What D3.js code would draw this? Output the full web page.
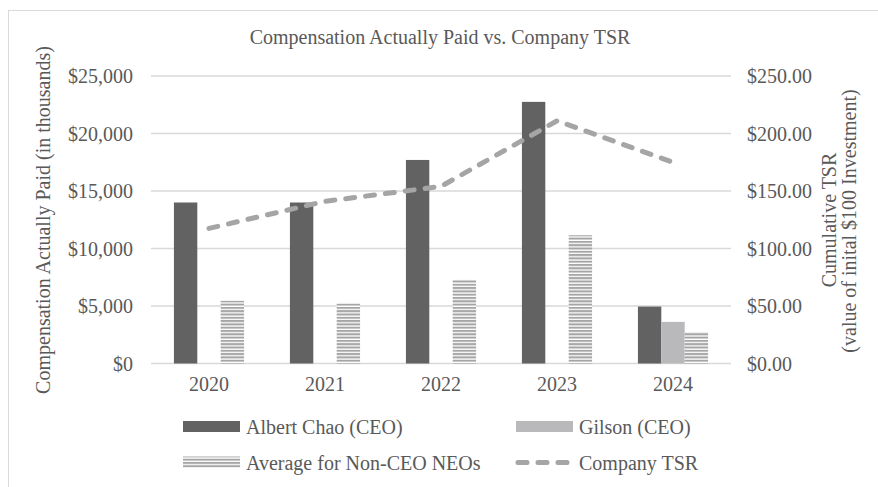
<!DOCTYPE html>
<html lang="en">
<head>
    <meta charset="UTF-8">
    <title>Compensation Actually Paid vs. Company TSR</title>
    <style>
        body { margin: 0; background: #fff; }
        svg { display: block; }
        text { font-family: "Liberation Serif", "Times New Roman", serif; fill: #595959; font-size: 20px; }
    </style>
</head>
<body>
    <div id="chart"></div>
    <script src="https://d3js.org/d3.v7.min.js"></script>
    <script>
        // Chart data
        const years = ["2020", "2021", "2022", "2023", "2024"];
        const albertChao = [14000, 14000, 17700, 22750, 4950];
        const gilson = [null, null, null, null, 3620];
        const nonCeoAvg = [5450, 5220, 7270, 11150, 2740];
        const companyTsr = [117.5, 141, 154, 211, 175];
        const leftTicks = [0, 5000, 10000, 15000, 20000, 25000];
        const rightTicks = [0, 50, 100, 150, 200, 250];

        const width = 878, height = 487;
        const plot = { left: 151, right: 731, top: 76, bottom: 363.5 };

        const svg = d3.select("#chart").append("svg")
            .attr("width", width)
            .attr("height", height);

        // horizontal hatch for the non-CEO bars
        const defs = svg.append("defs");
        const pat = defs.append("pattern")
            .attr("id", "hatch")
            .attr("patternUnits", "userSpaceOnUse")
            .attr("width", 6).attr("height", 3.3);
        pat.append("rect").attr("width", 6).attr("height", 3.3).attr("fill", "#fff");
        pat.append("rect").attr("y", 0).attr("width", 6).attr("height", 2).attr("fill", "#a5a5a5");

        // outer chart border
        svg.append("rect")
            .attr("x", 8.5).attr("y", 10.5)
            .attr("width", width).attr("height", height)
            .attr("fill", "none")
            .attr("stroke", "#d9d9d9");

        const x = d3.scaleBand().domain(years).range([plot.left, plot.right]);
        const yL = d3.scaleLinear().domain([0, 25000]).range([plot.bottom, plot.top]);
        const yR = d3.scaleLinear().domain([0, 250]).range([plot.bottom, plot.top]);

        // gridlines
        svg.append("g").selectAll("line")
            .data(leftTicks)
            .join("line")
            .attr("x1", plot.left).attr("x2", plot.right)
            .attr("y1", d => yL(d)).attr("y2", d => yL(d))
            .attr("stroke", "#d9d9d9")
            .attr("stroke-width", 1.3);

        // bars
        const seriesKeys = ["albert", "gilson", "neo"];
        const sub = d3.scaleBand().domain(seriesKeys)
            .range([0, x.bandwidth()])
            .paddingOuter(0.98).paddingInner(0);
        const fills = { albert: "#626262", gilson: "#b9b9bb", neo: "url(#hatch)" };
        const barData = [];
        years.forEach((yr, i) => {
            barData.push({ yr, key: "albert", v: albertChao[i] });
            barData.push({ yr, key: "gilson", v: gilson[i] });
            barData.push({ yr, key: "neo", v: nonCeoAvg[i] });
        });
        svg.append("g").selectAll("rect")
            .data(barData.filter(d => d.v != null))
            .join("rect")
            .attr("x", d => x(d.yr) + sub(d.key))
            .attr("width", sub.bandwidth())
            .attr("y", d => yL(d.v))
            .attr("height", d => yL(0) - yL(d.v))
            .attr("fill", d => fills[d.key]);

        // TSR line
        const line = d3.line()
            .x((d, i) => x(years[i]) + x.bandwidth() / 2)
            .y(d => yR(d));
        svg.append("path")
            .datum(companyTsr)
            .attr("d", line)
            .attr("fill", "none")
            .attr("stroke", "#a5a5a5")
            .attr("stroke-width", 5)
            .attr("stroke-linecap", "round")
            .attr("stroke-dasharray", "9,11");

        // left axis labels
        svg.append("g").selectAll("text")
            .data(leftTicks)
            .join("text")
            .attr("x", 133)
            .attr("y", d => yL(d))
            .attr("dy", "0.35em")
            .attr("text-anchor", "end")
            .text(d => "$" + d3.format(",")(d));

        // right axis labels
        svg.append("g").selectAll("text")
            .data(rightTicks)
            .join("text")
            .attr("x", 747)
            .attr("y", d => yR(d))
            .attr("dy", "0.35em")
            .attr("text-anchor", "start")
            .text(d => "$" + d3.format(".2f")(d));

        // category labels
        svg.append("g").selectAll("text")
            .data(years)
            .join("text")
            .attr("x", d => x(d) + x.bandwidth() / 2)
            .attr("y", 391)
            .attr("text-anchor", "middle")
            .text(d => d);

        // title
        svg.append("text")
            .attr("x", 440).attr("y", 44)
            .attr("text-anchor", "middle")
            .text("Compensation Actually Paid vs. Company TSR");

        // axis titles
        svg.append("text")
            .attr("transform", "translate(50,220) rotate(-90)")
            .attr("text-anchor", "middle")
            .text("Compensation Actually Paid (in thousands)");
        svg.append("text")
            .attr("transform", "translate(836,220) rotate(-90)")
            .attr("text-anchor", "middle")
            .text("Cumulative TSR");
        svg.append("text")
            .attr("transform", "translate(856,221) rotate(-90)")
            .attr("text-anchor", "middle")
            .text("(value of inital $100 Investment)");

        // legend
        const legend = [
            { label: "Albert Chao (CEO)", type: "bar", fill: fills.albert, x: 183, y: 427 },
            { label: "Gilson (CEO)", type: "bar", fill: fills.gilson, x: 516, y: 427 },
            { label: "Average for Non-CEO NEOs", type: "bar", fill: fills.neo, x: 183, y: 462.5 },
            { label: "Company TSR", type: "line", x: 516, y: 462.5 }
        ];
        const lg = svg.append("g").selectAll("g").data(legend).join("g");
        lg.filter(d => d.type === "bar").append("rect")
            .attr("x", d => d.x).attr("y", d => d.y - 6)
            .attr("width", 57).attr("height", 11)
            .attr("fill", d => d.fill);
        lg.filter(d => d.type === "line").append("line")
            .attr("x1", d => d.x + 2).attr("x2", d => d.x + 55)
            .attr("y1", d => d.y).attr("y2", d => d.y)
            .attr("stroke", "#a5a5a5")
            .attr("stroke-width", 5)
            .attr("stroke-linecap", "round")
            .attr("stroke-dasharray", "9,11");
        lg.append("text")
            .attr("x", d => d.x + 63)
            .attr("y", d => d.y + 7)
            .text(d => d.label);
    </script>
</body>
</html>
